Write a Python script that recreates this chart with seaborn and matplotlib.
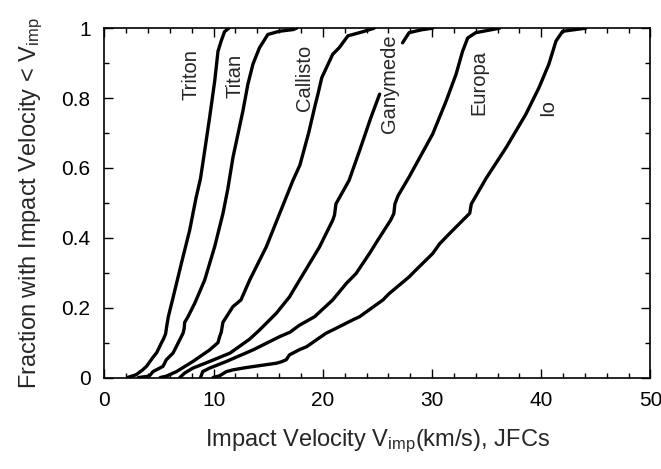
import numpy as np
import pandas as pd
import seaborn as sns
import matplotlib
matplotlib.use("Agg")
import matplotlib.pyplot as plt
from matplotlib.ticker import MultipleLocator, FuncFormatter

# cumulative impact-velocity curves (v in km/s, fraction)
triton_v = [2.1, 2.9, 3.5, 3.85, 4.45, 4.8, 5.2, 5.4, 5.6, 5.7, 5.85, 6.3, 7.04, 7.8,
            8.4, 8.8, 9.27, 9.63, 10.1, 10.4, 10.7, 11.0, 11.4]
triton_f = [0.0, 0.008, 0.022, 0.032, 0.058, 0.072, 0.098, 0.11, 0.125, 0.146, 0.174,
            0.231, 0.326, 0.421, 0.516, 0.57, 0.668, 0.744, 0.849, 0.934, 0.964, 0.99, 1.0]

titan_v = [3.1, 4.1, 4.45, 5.36, 5.67, 6.28, 6.59, 7.04, 7.2, 7.3, 7.35, 7.65, 8.26, 9.18,
           10.09, 10.85, 11.3, 11.77, 12.68, 13.14, 13.6, 14.2, 14.97, 16.0, 17.3, 17.6]
titan_f = [0.0, 0.004, 0.017, 0.032, 0.051, 0.07, 0.089, 0.117, 0.127, 0.14, 0.158, 0.174,
           0.212, 0.279, 0.374, 0.469, 0.54, 0.63, 0.763, 0.84, 0.897, 0.944, 0.982, 0.991,
           0.996, 1.0]

callisto_v = [5.1, 5.67, 6.6, 8.1, 9.63, 10.4, 10.55, 10.7, 10.85, 11.77, 12.5, 13.3, 14.82,
              16.04, 17.26, 17.9, 18.7, 19.3, 19.55, 19.9, 20.9, 21.5, 22.3, 23.7, 24.7]
callisto_f = [0.0, 0.004, 0.017, 0.046, 0.079, 0.1, 0.117, 0.13, 0.158, 0.203, 0.222, 0.279,
              0.374, 0.469, 0.564, 0.608, 0.7, 0.78, 0.811, 0.858, 0.925, 0.944, 0.978, 0.99, 1.0]

# Ganymede is broken where its label sits
ganymede_v = [6.9, 7.35, 8.1, 9.63, 11.5, 13.3, 14.2, 15.74, 16.95, 17.87, 19.7, 20.0, 20.9,
              21.07, 21.2, 22.4, 23.36, 24.4, 25.2]
ganymede_f = [0.0, 0.013, 0.027, 0.046, 0.07, 0.11, 0.136, 0.184, 0.231, 0.279, 0.374, 0.393,
              0.45, 0.465, 0.497, 0.564, 0.649, 0.744, 0.811]
ganymede_top_v = [27.3, 27.9, 29.0, 30.06]
ganymede_top_f = [0.958, 0.987, 0.995, 1.0]

europa_v = [8.8, 9.0, 9.63, 11.16, 13.6, 14.82, 16.04, 17.0, 17.87, 19.24, 20.9, 22.14, 23.05,
            24.27, 25.03, 26.2, 26.5, 26.6, 26.9, 27.9, 30.06, 31.3, 32.2, 32.8, 33.27, 34.0, 36.2]
europa_f = [0.0, 0.017, 0.027, 0.046, 0.079, 0.098, 0.117, 0.13, 0.15, 0.174, 0.222, 0.269,
            0.298, 0.355, 0.393, 0.45, 0.469, 0.497, 0.521, 0.574, 0.697, 0.792, 0.868, 0.934,
            0.972, 0.987, 1.0]

io_v = [9.94, 10.55, 11.16, 11.77, 12.68, 13.3, 15.74, 16.2, 16.65, 16.95, 17.87, 18.5, 20.3,
        20.9, 22.74, 23.36, 25.5, 26.1, 27.9, 28.5, 30.06, 30.7, 31.6, 33.45, 33.6, 34.95, 36.8,
        38.6, 39.8, 40.7, 41.35, 41.96, 44.1]
io_f = [0.0, 0.005, 0.017, 0.022, 0.027, 0.03, 0.041, 0.045, 0.051, 0.065, 0.08, 0.088, 0.127,
        0.136, 0.165, 0.174, 0.222, 0.241, 0.288, 0.307, 0.355, 0.383, 0.412, 0.47, 0.497, 0.57,
        0.659, 0.754, 0.83, 0.897, 0.963, 0.991, 1.0]

segments = {
    "Triton": (triton_v, triton_f),
    "Titan": (titan_v, titan_f),
    "Callisto": (callisto_v, callisto_f),
    "Ganymede": (ganymede_v, ganymede_f),
    "Ganymede top": (ganymede_top_v, ganymede_top_f),
    "Europa": (europa_v, europa_f),
    "Io": (io_v, io_f),
}

frames = []
for name, (v, f) in segments.items():
    frames.append(pd.DataFrame({"v": v, "frac": f, "seg": name}))
df = pd.concat(frames, ignore_index=True)

sns.set_style("ticks")
plt.rcParams["font.family"] = ["Liberation Sans", "DejaVu Sans"]
plt.rcParams["mathtext.fontset"] = "custom"
plt.rcParams["mathtext.rm"] = "Liberation Sans"
plt.rcParams["mathtext.it"] = "Liberation Sans"

fig, ax = plt.subplots(figsize=(6.61, 4.69), dpi=100)
fig.subplots_adjust(left=0.158, right=0.984, bottom=0.195, top=0.94)

sns.lineplot(data=df, x="v", y="frac", hue="seg", palette=["black"] * len(segments),
             estimator=None, sort=False, legend=False, lw=2.4, ax=ax)

ax.set_xlim(0, 50)
ax.set_ylim(0, 1)
ax.xaxis.set_major_locator(MultipleLocator(10))
ax.xaxis.set_minor_locator(MultipleLocator(2))
ax.yaxis.set_major_locator(MultipleLocator(0.2))
ax.yaxis.set_minor_locator(MultipleLocator(0.1))
fmt = FuncFormatter(lambda x, p: f"{x:g}")
ax.xaxis.set_major_formatter(fmt)
ax.yaxis.set_major_formatter(fmt)
ax.tick_params(which="both", direction="in", top=True, right=True, width=1, colors="black")
ax.tick_params(which="major", length=6.5, labelsize=15, pad=10)
ax.tick_params(which="minor", length=3.6)
for s in ax.spines.values():
    s.set_linewidth(1.2)
    s.set_color("black")

ax.set_xlabel(r"Impact Velocity V$_{\mathrm{imp}}$(km/s), JFCs", fontsize=17, labelpad=12)
ax.set_ylabel(r"Fraction with Impact Velocity < V$_{\mathrm{imp}}$", fontsize=17, labelpad=12)

labels = [("Triton", 7.96, 0.868), ("Titan", 12.0, 0.863), ("Callisto", 18.3, 0.858),
          ("Ganymede", 26.1, 0.84), ("Europa", 34.3, 0.844), ("Io", 40.6, 0.773)]
for txt, x, y in labels:
    ax.text(x, y, txt, rotation=90, ha="center", va="center", fontsize=14.5)

fig.savefig("out.png", dpi=100)
